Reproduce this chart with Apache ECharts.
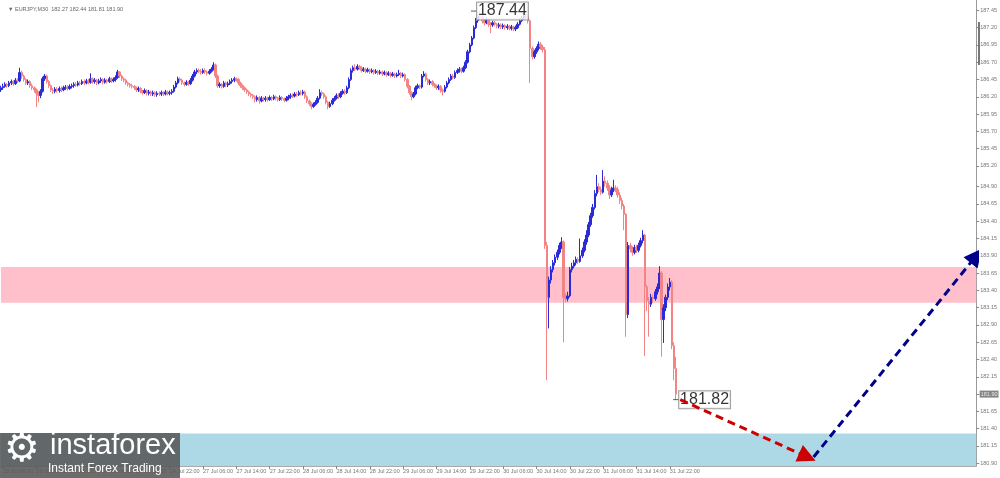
<!DOCTYPE html>
<html><head><meta charset="utf-8">
<script src="https://cdn.jsdelivr.net/npm/echarts@6.0.0/dist/echarts.min.js"></script>
<style>html,body{margin:0;padding:0;background:#fff}#c{width:1000px;height:478px}</style>
</head><body><div id="c"></div>
<script>
// ---------- data ----------
const symbolTitle = '\u25BC EURJPY,M30  182.27 182.44 181.81 181.90';
const tradingDays = ['23 Jul','24 Jul','27 Jul','28 Jul','29 Jul','30 Jul','31 Jul','3 Aug','4 Aug','5 Aug'];
const xTickLabels = ['23 Jul 06:00','23 Jul 14:00','23 Jul 22:00','24 Jul 06:00','24 Jul 14:00','24 Jul 22:00',
  '27 Jul 06:00','27 Jul 14:00','27 Jul 22:00','28 Jul 06:00','28 Jul 14:00','28 Jul 22:00',
  '29 Jul 06:00','29 Jul 14:00','29 Jul 22:00','30 Jul 06:00','30 Jul 14:00','30 Jul 22:00',
  '31 Jul 06:00','31 Jul 14:00','31 Jul 22:00'];
const yLabelValues = [180.90,181.15,181.40,181.65,182.15,182.40,182.65,182.90,183.15,183.40,183.65,183.90,
  184.15,184.40,184.65,184.90,185.20,185.45,185.70,185.95,186.20,186.45,186.70,186.95,187.20,187.45];
const yTickValues = [180.90,181.15,181.40,181.65,181.90,182.15,182.40,182.65,182.90,183.15,183.40,183.65,183.90,
  184.15,184.40,184.65,184.90,185.20,185.45,185.70,185.95,186.20,186.45,186.70,186.95,187.20,187.45];
const firstOpen = 186.30;
const closes = [
186.33,186.35,186.38,186.36,186.40,186.42,186.39,186.44,186.43,186.55,
186.50,186.45,186.40,186.42,186.36,186.33,186.30,186.25,186.22,186.28,
186.46,186.50,186.42,186.36,186.30,186.28,186.31,186.29,186.32,186.30,
186.33,186.34,186.32,186.35,186.36,186.38,186.37,186.40,186.39,186.42,
186.40,186.43,186.41,186.46,186.42,186.44,186.40,186.43,186.45,186.41,
186.44,186.42,186.46,186.43,186.45,186.48,186.56,186.50,186.46,186.44,
186.40,186.38,186.36,186.35,186.33,186.30,186.32,186.28,186.26,186.29,
186.25,186.27,186.24,186.26,186.23,186.25,186.24,186.26,186.24,186.27,
186.25,186.26,186.28,186.34,186.40,186.46,186.44,186.40,186.38,186.41,
186.39,186.44,186.50,186.56,186.58,186.57,186.55,186.58,186.56,186.54,
186.57,186.60,186.66,186.50,186.36,186.38,186.35,186.40,186.37,186.39,
186.42,186.44,186.46,186.45,186.40,186.36,186.33,186.30,186.27,186.24,
186.22,186.20,186.16,186.19,186.14,186.18,186.16,186.18,186.16,186.19,
186.17,186.20,186.18,186.16,186.19,186.17,186.15,186.18,186.20,186.22,
186.21,186.24,186.23,186.26,186.25,186.27,186.20,186.14,186.10,186.06,
186.09,186.12,186.18,186.26,186.24,186.20,186.12,186.06,186.10,186.15,
186.18,186.22,186.20,186.25,186.28,186.26,186.33,186.45,186.58,186.62,
186.60,186.64,186.62,186.58,186.60,186.57,186.59,186.56,186.58,186.55,
186.57,186.54,186.56,186.53,186.55,186.52,186.54,186.51,186.53,186.50,
186.52,186.54,186.50,186.52,186.45,186.35,186.26,186.20,186.24,186.33,
186.36,186.34,186.50,186.53,186.45,186.40,186.42,186.38,186.36,186.33,
186.35,186.30,186.28,186.34,186.40,186.45,186.50,186.48,186.55,186.58,
186.60,186.57,186.62,186.70,186.85,186.95,187.05,187.20,187.30,187.36,
187.35,187.30,187.27,187.32,187.25,187.24,187.27,187.25,187.22,187.24,
187.21,187.23,187.20,187.22,187.19,187.21,187.18,187.20,187.25,187.30,
187.34,187.37,187.35,187.30,186.90,186.78,186.85,186.90,186.96,186.92,
186.88,184.05,183.30,183.55,183.70,183.80,183.88,183.95,184.05,184.10,
183.30,183.28,183.32,183.70,183.75,183.80,183.85,183.82,183.90,183.98,
184.10,184.20,184.35,184.48,184.60,184.80,184.90,184.86,184.82,184.98,
184.95,184.88,184.78,184.85,184.88,184.86,184.78,184.70,184.62,184.50,
183.05,184.05,184.00,183.95,184.02,183.98,184.05,184.12,184.20,183.45,
183.25,183.20,183.30,183.28,183.38,183.45,183.65,182.98,183.15,183.30,
183.45,183.52,182.60,182.27,181.90];
const highs = [
186.36,186.39,186.41,186.40,186.43,186.45,186.44,186.47,186.47,186.62,
186.58,186.52,186.47,186.45,186.44,186.39,186.35,186.32,186.28,186.31,
186.49,186.53,186.52,186.44,186.38,186.33,186.34,186.34,186.35,186.35,
186.36,186.37,186.37,186.38,186.39,186.41,186.41,186.43,186.43,186.45,
186.45,186.46,186.46,186.54,186.48,186.47,186.46,186.46,186.48,186.47,
186.47,186.46,186.49,186.48,186.48,186.51,186.59,186.57,186.52,186.48,
186.46,186.42,186.40,186.39,186.37,186.35,186.35,186.34,186.30,186.32,
186.31,186.30,186.29,186.29,186.28,186.28,186.28,186.29,186.28,186.30,
186.29,186.29,186.31,186.37,186.43,186.49,186.48,186.46,186.42,186.44,
186.43,186.47,186.53,186.59,186.61,186.61,186.60,186.61,186.61,186.58,
186.60,186.63,186.70,186.68,186.52,186.41,186.40,186.43,186.42,186.42,
186.45,186.47,186.49,186.48,186.47,186.42,186.38,186.35,186.32,186.29,
186.26,186.24,186.22,186.22,186.21,186.21,186.20,186.21,186.20,186.22,
186.21,186.23,186.22,186.20,186.22,186.21,186.19,186.21,186.23,186.25,
186.25,186.27,186.27,186.29,186.29,186.30,186.29,186.22,186.16,186.12,
186.12,186.15,186.21,186.31,186.29,186.26,186.22,186.14,186.13,186.18,
186.21,186.25,186.25,186.28,186.31,186.31,186.36,186.48,186.61,186.65,
186.67,186.67,186.66,186.64,186.63,186.62,186.62,186.61,186.61,186.60,
186.60,186.59,186.59,186.58,186.58,186.57,186.57,186.56,186.56,186.55,
186.55,186.59,186.56,186.55,186.54,186.47,186.37,186.28,186.27,186.36,
186.39,186.38,186.53,186.57,186.55,186.47,186.45,186.44,186.40,186.38,
186.38,186.37,186.32,186.37,186.43,186.48,186.53,186.53,186.58,186.61,
186.63,186.62,186.65,186.73,186.88,186.98,187.08,187.23,187.34,187.40,
187.44,187.38,187.33,187.35,187.34,187.28,187.30,187.30,187.27,187.27,
187.26,187.26,187.25,187.25,187.24,187.24,187.23,187.23,187.28,187.33,
187.37,187.42,187.40,187.38,187.32,186.93,186.88,186.93,187.00,186.99,
186.95,186.92,184.10,183.60,183.75,183.84,183.92,183.99,184.09,184.17,
184.12,183.36,183.38,183.74,183.80,183.84,183.89,183.88,184.15,184.02,
184.14,184.27,184.39,184.52,184.65,184.85,185.07,184.95,184.90,185.14,
185.05,184.99,184.92,184.90,185.00,184.92,184.90,184.82,184.74,184.65,
184.52,184.10,184.09,184.04,184.06,184.06,184.09,184.16,184.27,184.22,
183.48,183.30,183.35,183.34,183.42,183.50,183.75,183.68,183.20,183.34,
183.50,183.58,183.55,182.65,182.44];
const lows = [
186.27,186.30,186.33,186.33,186.34,186.37,186.36,186.37,186.40,186.41,
186.46,186.42,186.37,186.37,186.33,186.30,186.26,186.05,186.12,186.18,
186.26,186.43,186.39,186.33,186.27,186.24,186.25,186.26,186.26,186.27,
186.28,186.30,186.29,186.30,186.32,186.33,186.34,186.35,186.36,186.37,
186.37,186.38,186.38,186.39,186.39,186.39,186.37,186.38,186.40,186.38,
186.39,186.39,186.40,186.40,186.41,186.42,186.46,186.47,186.43,186.41,
186.37,186.35,186.33,186.32,186.30,186.27,186.27,186.25,186.23,186.24,
186.22,186.22,186.21,186.21,186.20,186.20,186.21,186.21,186.21,186.22,
186.22,186.22,186.23,186.26,186.32,186.38,186.41,186.37,186.35,186.36,
186.36,186.37,186.42,186.48,186.53,186.54,186.52,186.53,186.53,186.51,
186.52,186.55,186.58,186.47,186.33,186.33,186.32,186.33,186.34,186.34,
186.37,186.39,186.41,186.42,186.37,186.33,186.30,186.27,186.24,186.21,
186.19,186.17,186.12,186.13,186.10,186.12,186.13,186.13,186.13,186.14,
186.14,186.15,186.15,186.13,186.14,186.14,186.12,186.13,186.15,186.17,
186.18,186.19,186.20,186.21,186.22,186.22,186.17,186.11,186.07,186.02,
186.04,186.07,186.10,186.16,186.21,186.17,186.09,186.02,186.04,186.08,
186.13,186.16,186.17,186.18,186.23,186.23,186.24,186.31,186.43,186.55,
186.57,186.58,186.59,186.55,186.56,186.54,186.55,186.53,186.54,186.52,
186.53,186.51,186.52,186.50,186.51,186.49,186.50,186.48,186.49,186.47,
186.48,186.50,186.47,186.48,186.42,186.32,186.23,186.15,186.18,186.22,
186.31,186.31,186.32,186.48,186.42,186.37,186.37,186.35,186.33,186.30,
186.30,186.26,186.22,186.26,186.32,186.38,186.43,186.45,186.46,186.53,
186.55,186.54,186.55,186.60,186.68,186.83,186.93,187.03,187.18,187.27,
187.31,187.26,187.23,187.25,187.21,187.12,187.21,187.22,187.19,187.19,
187.18,187.18,187.17,187.17,187.16,187.16,187.15,187.15,187.18,187.23,
187.28,187.31,187.32,187.26,186.40,186.74,186.75,186.82,186.87,186.88,
186.84,184.00,182.10,182.85,183.50,183.66,183.76,183.84,183.92,184.00,
182.65,183.22,183.24,183.30,183.66,183.72,183.76,183.78,183.80,183.87,
183.95,184.06,184.17,184.32,184.45,184.57,184.76,184.82,184.78,184.80,
184.90,184.84,184.72,184.75,184.82,184.82,184.74,184.65,184.57,184.27,
182.73,183.00,183.95,183.90,183.92,183.94,183.95,184.02,184.08,182.45,
183.10,182.73,183.16,183.22,183.25,183.34,183.42,182.44,182.64,183.10,
183.26,183.40,182.55,182.10,181.82];
const lastPrice = 181.90;
const highMark = { index: 227, value: 187.44, text: '187.44' };
const lowMark = { index: 324, value: 181.82, text: '181.82' };
const resistanceZone = [183.22, 183.74];
const supportZone = [180.86, 181.33];
const forecastDown = [[326, 181.82], [387, 180.99]];
const forecastUp = [[390, 180.99], [468, 183.90]];
const axisRange = [180.86, 187.60];
const slotCount = 470;
const firstSlot = 11; // 05:30 of first day

// ---------- build ----------
const allSlots = [];
tradingDays.forEach(d => {
  for (let h = 0; h < 48; h++) {
    const hh = String(Math.floor(h / 2)).padStart(2, '0');
    allSlots.push(d + ' ' + hh + (h % 2 ? ':30' : ':00'));
  }
});
const categories = allSlots.slice(firstSlot, firstSlot + slotCount);
const xTickSet = new Set(xTickLabels);
const candleData = closes.map((c, i) => [i === 0 ? firstOpen : closes[i - 1], c, lows[i], highs[i]]);

const smallFont = 'Liberation Sans';
const markLabel = (text) => ({
  show: true, position: 'right', distance: 0, formatter: text,
  fontSize: 16, fontFamily: 'Liberation Sans', color: '#000',
  backgroundColor: '#fff', borderColor: '#888', borderWidth: 1, padding: [1, 1, 0, 1]
});

const chart = echarts.init(document.getElementById('c'), null, { renderer: 'canvas' });
chart.setOption({
  animation: false,
  title: { text: symbolTitle, left: 3, top: 1,
    textStyle: { fontSize: 5.5, color: '#666', fontWeight: 'normal', fontFamily: smallFont } },
  grid: { left: 0, right: 23, top: 0, bottom: 12 },
  xAxis: {
    type: 'category', data: categories, boundaryGap: false,
    axisLine: { show: true, lineStyle: { color: '#aaa', width: 1 } },
    axisTick: { show: true, interval: (i, v) => xTickSet.has(v), length: 3, lineStyle: { color: '#888' } },
    axisLabel: { interval: (i, v) => xTickSet.has(v), align: 'left', fontSize: 5.5, color: '#777',
      margin: 2, fontFamily: smallFont, hideOverlap: false },
    splitLine: { show: false }
  },
  yAxis: {
    type: 'value', position: 'right', min: axisRange[0], max: axisRange[1],
    axisLine: { show: true, lineStyle: { color: '#999' } },
    axisTick: { show: true, length: 3, customValues: yTickValues, lineStyle: { color: '#888' } },
    axisLabel: { customValues: yLabelValues, formatter: v => v.toFixed(2), fontSize: 5.5,
      color: '#777', margin: 4, fontFamily: smallFont },
    splitLine: { show: false }
  },
  series: [
    { type: 'line', data: [], z: 1, silent: true,
      markArea: { silent: true, data: [
        [{ yAxis: resistanceZone[1], itemStyle: { color: '#ffc0cb' } }, { yAxis: resistanceZone[0] }],
        [{ yAxis: supportZone[1], itemStyle: { color: '#add8e6' } }, { yAxis: supportZone[0] }]
      ] } },
    { type: 'candlestick', data: candleData, z: 3, barWidth: 2,
      itemStyle: { color: '#2a2ad8', color0: '#f28484', borderColor: '#2a2ad8', borderColor0: '#f28484', borderWidth: 1 } },
    { type: 'scatter', z: 7, clip: false, silent: true, data: [[categories.length - 1, lastPrice]],
      symbol: 'rect', symbolSize: [1, 1], itemStyle: { color: 'rgba(0,0,0,0)' },
      labelLayout: { hideOverlap: false },
      label: { show: true, position: 'right', distance: 3, formatter: lastPrice.toFixed(2),
        backgroundColor: '#666', color: '#fff', fontSize: 5.5, padding: [1, 1, 0, 1], fontFamily: smallFont } },
    { type: 'scatter', z: 5, data: [[highMark.index, highMark.value]], symbol: 'rect', symbolSize: [6, 1],
      itemStyle: { color: '#333' }, label: markLabel(highMark.text) },
    { type: 'scatter', z: 5, data: [[lowMark.index, lowMark.value]], symbol: 'rect', symbolSize: [6, 1],
      itemStyle: { color: '#333' }, label: markLabel(lowMark.text) },
    { type: 'lines', coordinateSystem: 'cartesian2d', z: 6, symbol: ['none', 'triangle'], symbolSize: 18,
      lineStyle: { color: '#cc0000', width: 3, type: [8, 5], opacity: 1 },
      data: [{ coords: forecastDown }] },
    { type: 'lines', coordinateSystem: 'cartesian2d', z: 6, symbol: ['none', 'triangle'], symbolSize: 18,
      lineStyle: { color: '#00008b', width: 3, type: [8, 5], opacity: 1 },
      data: [{ coords: forecastUp }] }
  ],
  graphic: [
    { type: 'rect', left: 978, top: 22, shape: { width: 2, height: 43 }, style: { fill: '#777' }, z: 50 },
    { type: 'rect', left: 0, top: 433, shape: { width: 180, height: 45 }, style: { fill: 'rgba(88,88,88,0.88)' }, z: 100 },
    { type: 'text', left: 4, top: 431, style: { text: '\u2699', fontSize: 40, fill: '#fff', fontFamily: 'DejaVu Sans' }, z: 101 },
    { type: 'text', left: 50, top: 431, style: { text: 'instaforex', fontSize: 29, fill: '#fff', fontFamily: 'Liberation Sans' }, z: 101 },
    { type: 'text', left: 48, top: 463, style: { text: 'Instant Forex Trading', fontSize: 12, fill: '#fff', fontFamily: 'Liberation Sans' }, z: 101 }
  ]
});
</script></body></html>
